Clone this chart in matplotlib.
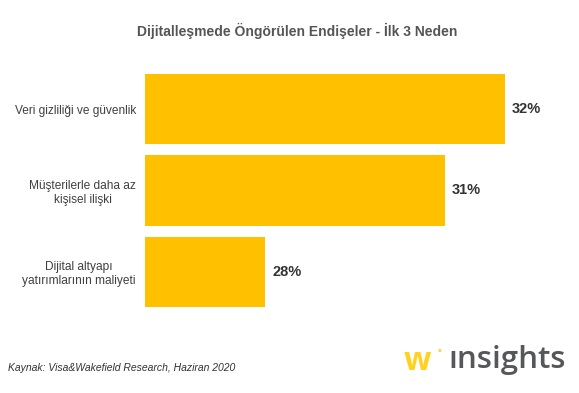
import matplotlib.pyplot as plt

categories = ["Veri gizliliği ve güvenlik", "Müşterilerle daha az\nkişisel ilişki", "Dijital altyapı\nyatırımlarının maliyeti"]
values = [32, 31, 28]
value_labels = ["32%", "31%", "28%"]

plt.rcParams['font.family'] = ['Liberation Sans', 'DejaVu Sans']

fig = plt.figure(figsize=(5.79, 3.93), dpi=100)
ax = fig.add_axes([145/579, 1-307/393, 420/579, 233/393])

ypos = list(range(len(values)))
ax.barh(ypos, [v - 26 for v in values], left=26, height=0.86, color='#FFC000')
ax.set_xlim(26, 33)
ax.set_ylim(2.43, -0.43)
ax.set_yticks(ypos)
ax.set_yticklabels(categories, fontsize=8.6, color='#404040', multialignment='center')
ax.tick_params(axis='y', length=0, pad=6.5)
ax.set_xticks([])
for s in ax.spines.values():
    s.set_visible(False)

for y, v, lab in zip(ypos, values, value_labels):
    ax.annotate(lab, (v, y), xytext=(7, 0), textcoords='offset pixels',
                va='center', ha='left', fontsize=10.5, fontweight='bold', color='#333333')

fig.text(297/579, 1-31/393, "Dijitalleşmede Öngörülen Endişeler - İlk 3 Neden",
         ha='center', va='center', fontsize=10, fontweight='bold', color='#555555')
fig.text(8/579, 1-368/393, "Kaynak: Visa&Wakefield Research, Haziran 2020",
         ha='left', va='center', fontsize=7.5, style='italic', color='#333333')

# logo
fig.text(404/579, 1-361/393, "w", ha='left', va='center', fontsize=23,
         color='#FFD21F', family='Open Sans', fontweight='bold')
fig.text(439/579, 1-351/393, "•", ha='center', va='center', fontsize=7,
         color='#FFD21F', family='DejaVu Sans')
fig.text(448/579, 1-360/393, "ınsights", ha='left', va='center', fontsize=22.5,
         color='#555759', family='Open Sans', fontweight='semibold')

fig.savefig('out.png', dpi=100)
